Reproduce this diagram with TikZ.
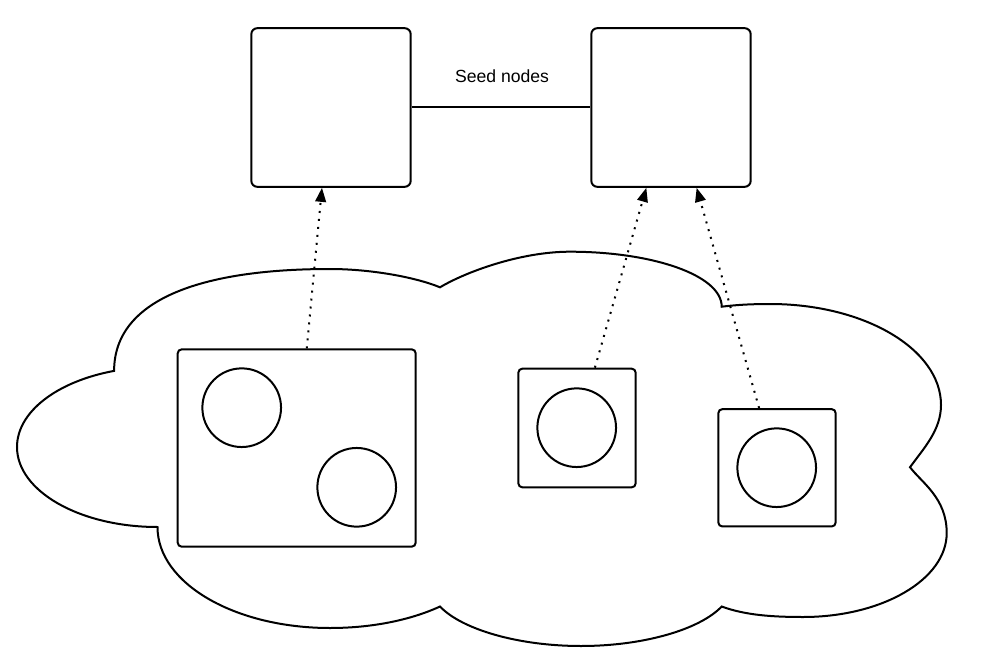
\documentclass[tikz,border=0pt]{standalone}
\usepackage{fontspec}
\setmainfont{Liberation Sans}
\usetikzlibrary{calc,arrows.meta}
\begin{document}
\begin{tikzpicture}[x=0.75pt,y=-0.75pt,
  seedbox/.style={draw,line width=1.5pt,rounded corners=4.5pt,minimum width=119.5pt,minimum height=119pt,inner sep=0pt},
  hostbox/.style={draw,line width=1.5pt,rounded corners=3pt,inner sep=0pt},
  proc/.style={draw,circle,line width=1.5pt,minimum size=59pt,inner sep=0pt},
  cloudline/.style={draw,line width=1.5pt,line join=miter},
  dotarrow/.style={line width=1.5pt,dash pattern=on 1.5pt off 4.5pt,-{Triangle[length=10.5pt,width=8pt]}},
  lbl/.style={font=\fontsize{13.2}{16}\selectfont,inner sep=0pt}
]
\useasboundingbox[fill=white] (0,0) rectangle (988,656);

% cloud
\path[cloudline] (114.1,370.9)
 .. controls (56.2,381.6) and (17,412.3) .. (17,447)
 .. controls (17,491.2) and (79.9,527) .. (157.5,527)
 .. controls (157.5,583.3) and (234.7,628) .. (330,628)
 .. controls (370.1,628) and (409.1,620.7) .. (440,606.5)
 .. controls (461.5,629.2) and (517.9,646) .. (581,646)
 .. controls (643.8,646) and (699.9,629.4) .. (721.7,606.5)
 .. controls (745.6,615.4) and (774,617) .. (803,617)
 .. controls (882.4,617) and (946.7,579.4) .. (946.7,533)
 .. controls (946.7,498) and (922,483) .. (910,467.2)
 .. controls (924,448) and (941,430) .. (941,405)
 .. controls (941,349.2) and (864.4,304) .. (770,304)
 .. controls (750,304) and (735,305) .. (721.7,306.7)
 .. controls (721.7,275) and (652,251.7) .. (570,251.7)
 .. controls (520,251.7) and (465,272.3) .. (440,287.3)
 .. controls (415,277) and (370,269) .. (330,269)
 .. controls (200,269) and (114.1,300) .. (114.1,370.9)
 -- cycle;

% seed nodes
\node[seedbox] (seedA) at (331,107.5) {};
\node[seedbox] (seedB) at (671,107.5) {};
\draw[line width=1.5pt] (seedA.east) -- (seedB.west);
\node[lbl] (seedlbl) at (502,76) {Seed nodes};

% hosts
\node[hostbox,minimum width=178.5pt,minimum height=148pt] (box1) at (296.7,448) {};
\node[hostbox,minimum width=88pt,minimum height=89pt] (box2) at (577,428) {};
\node[hostbox,minimum width=88pt,minimum height=88pt] (box3) at (777,467.8) {};

% processes
\node[proc] (c1) at (241.7,407.7) {};
\node[proc] (c2) at (356.7,487.3) {};
\node[proc] (c3) at (576.7,427.7) {};
\node[proc] (c4) at (776.7,467.7) {};

% joins
\draw[dotarrow] ($(box1.north west)!0.542!(box1.north east)$) -- ($(seedA.south west)!0.444!(seedA.south east)$);
\draw[dotarrow] ($(box2.north west)!0.65!(box2.north east)$) -- ($(seedB.south west)!0.347!(seedB.south east)$);
\draw[dotarrow] ($(box3.north west)!0.35!(box3.north east)$) -- ($(seedB.south west)!0.659!(seedB.south east)$);
\end{tikzpicture}
\end{document}
